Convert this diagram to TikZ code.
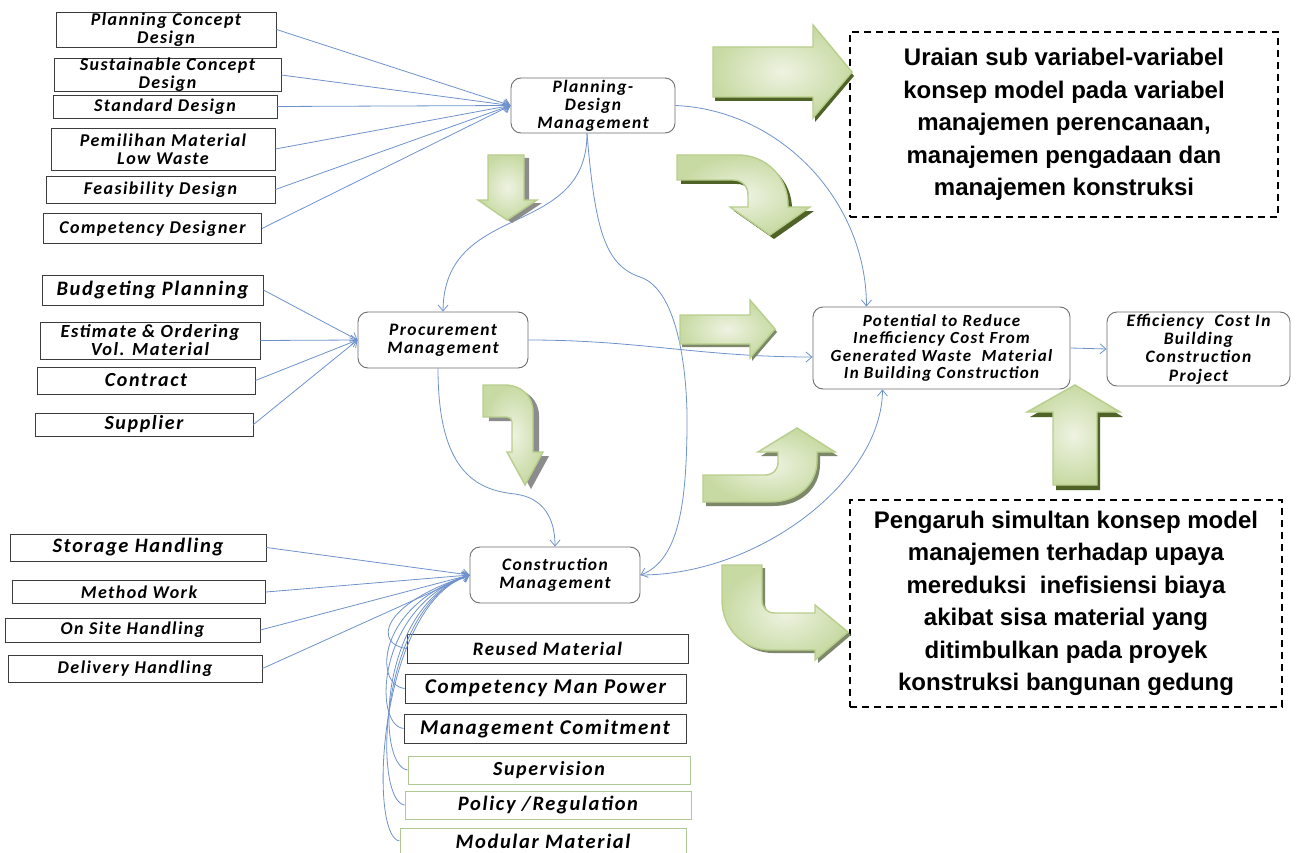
\documentclass[tikz,border=0pt]{standalone}
\usepackage{fontspec}
\newfontfamily\lblfont[LetterSpace=8]{Carlito}
\newfontfamily\txtfont{Liberation Sans}
\usetikzlibrary{calc}
\usetikzlibrary{arrows.meta}
\usetikzlibrary{shadows}
\definecolor{conn}{RGB}{112,146,204}
\definecolor{boxline}{RGB}{60,60,60}
\definecolor{rndline}{RGB}{110,110,110}
\definecolor{lgreen}{RGB}{175,200,150}
\definecolor{glight}{RGB}{238,243,226}
\definecolor{gmid}{RGB}{200,218,163}
\definecolor{gedge}{RGB}{184,206,140}
\definecolor{gshade}{RGB}{79,98,40}
\definecolor{mshade}{RGB}{125,135,105}
\definecolor{greyshade}{RGB}{140,140,140}
\newcommand{\lbl}[1]{\lblfont\bfseries\itshape\fontsize{#1}{#1}\selectfont}
\tikzset{
	sub/.style={draw=boxline, line width=0.9pt, inner sep=0pt, align=center, font=\lbl{18}},
	subg/.style={sub, draw=lgreen},
	mgmt/.style={draw=rndline, line width=0.9pt, rounded corners=10pt, fill=white, inner sep=0pt, align=center, font=\lblfont\bfseries\itshape\fontsize{17.5}{18}\selectfont},
	note/.style={draw, line width=1.3pt, dash pattern=on 7pt off 5pt, inner sep=0pt, align=center, font=\txtfont\bfseries\fontsize{24}{32.5}\selectfont},
	link/.style={draw=conn, line width=0.8pt, -{Straight Barb[length=6pt,width=10pt]}},
	bigarrow/.style={draw=gedge, line width=1.4pt, inner color=glight, outer color=gmid},
}
\begin{document}
\begin{tikzpicture}[x=1pt, y=-1pt]
	\fill[white] (0,0) rectangle (1300,853);
	\useasboundingbox (0,0) rectangle (1300,853);

	\node[sub, minimum width=220pt, minimum height=35pt] (pcd) at (166,29.5) {Planning Concept\\Design};
	\node[sub, minimum width=227pt, minimum height=30pt] (scd) at (167.5,75) {Sustainable Concept\\Design};
	\node[sub, minimum width=224pt, minimum height=23pt] (sd) at (165,106.5) {Standard Design};
	\node[sub, minimum width=224pt, minimum height=42pt] (pml) at (163,149) {Pemilihan Material\\Low Waste};
	\node[sub, minimum width=229pt, minimum height=27pt] (fd) at (160.5,189.5) {Feasibility Design};
	\node[sub, minimum width=218pt, minimum height=30pt] (cdz) at (152.5,228.5) {Competency Designer};

	\node[sub, minimum width=221pt, minimum height=30pt, font=\lbl{20.5}] (bp) at (152.5,290) {Budgeting Planning};
	\node[sub, minimum width=220pt, minimum height=37pt, font=\lblfont\bfseries\itshape\fontsize{18.5}{18}\selectfont] (eo) at (150,340.5) {Estimate \& Ordering\\Vol. Material};
	\node[sub, minimum width=218pt, minimum height=27pt, font=\lbl{20}] (ct) at (146,380.5) {Contract};
	\node[sub, minimum width=218pt, minimum height=23pt, font=\lbl{20}] (sp) at (144,424.5) {Supplier};

	\node[sub, minimum width=256pt, minimum height=27pt, font=\lbl{20.5}] (sh) at (138,547.5) {Storage Handling};
	\node[sub, minimum width=253pt, minimum height=23pt] (mw) at (139,592) {Method Work};
	\node[sub, minimum width=255pt, minimum height=24pt] (osh) at (132.5,630) {On Site Handling};
	\node[sub, minimum width=254pt, minimum height=27pt] (dh) at (135,668.5) {Delivery Handling};

	\node[sub, minimum width=281pt, minimum height=29pt, font=\lbl{19}] (rm) at (547.5,648.5) {Reused Material};
	\node[sub, minimum width=281pt, minimum height=29pt, font=\lbl{21}] (cmp) at (545.5,688.5) {Competency Man Power};
	\node[sub, minimum width=282pt, minimum height=29pt, font=\lbl{21}] (mc) at (545,728.5) {Management Comitment};
	\node[subg, minimum width=282pt, minimum height=28pt, font=\lbl{20}] (sv) at (549,770) {Supervision};
	\node[subg, minimum width=286pt, minimum height=28pt, font=\lbl{20.5}] (pr) at (548,805) {Policy /Regulation};
	\node[subg, minimum width=286pt, minimum height=26pt, font=\lbl{20.5}] (mm) at (543,841) {Modular Material};

	\node[mgmt, minimum width=164pt, minimum height=55pt] (pdm) at (593,105.5) {Planning-\\Design\\Management};
	\node[mgmt, minimum width=170pt, minimum height=56pt] (prm) at (443,340) {Procurement\\Management};
	\node[mgmt, minimum width=170pt, minimum height=56pt] (cm) at (555,575) {Construction\\Management};
	\node[mgmt, minimum width=257pt, minimum height=82pt, font=\lblfont\bfseries\itshape\fontsize{17}{17.5}\selectfont] (pot) at (941.5,348) {Potential to Reduce\\Inefficiency Cost From\\Generated Waste~ Material\\In Building Construction};
	\node[mgmt, minimum width=183pt, minimum height=74pt, font=\lblfont\bfseries\itshape\fontsize{17.5}{18.3}\selectfont] (eff) at (1198.5,349) {Efficiency~ Cost In\\Building\\Construction\\Project};

	\node[note, minimum width=428pt, minimum height=185pt] (uraian) at (1064,124.5) {Uraian sub variabel-variabel\\konsep model pada variabel\\manajemen perencanaan,\\manajemen pengadaan dan\\manajemen konstruksi};
	\node[note, minimum width=432pt, minimum height=207pt] (pengaruh) at (1066,603.5) {Pengaruh simultan konsep model\\manajemen terhadap upaya\\mereduksi~ inefisiensi biaya\\akibat sisa material yang\\ditimbulkan pada proyek\\konstruksi bangunan gedung};

	\foreach \s in {pcd,scd,sd,pml,fd,cdz}
		\draw[link] (\s.east) -- (pdm.west);
	\foreach \s in {bp,eo,ct,sp}
		\draw[link] (\s.east) -- (prm.west);
	\foreach \s in {sh,mw,osh,dh}
		\draw[link] (\s.east) -- (cm.west);
	\foreach \s in {rm,cmp,mc,sv,pr,mm}
		\draw[link] (\s.west) .. controls +(-32,-4) and (378,605) .. (cm.west);
	\draw[link] ([xshift=-6pt]pdm.south) .. controls (587,240) and (444,200) .. (prm.north);
	\draw[link] ([xshift=-6pt]pdm.south) .. controls (595,230) and (605,265) .. (640,277) .. controls (680,290) and (688,380) .. (687,430) .. controls (686,500) and (680,560) .. (cm.east);
	\draw[link] ([xshift=-5pt]prm.south) .. controls (438,470) and (475,490) .. (515,494) .. controls (545,498) and (555,520) .. (cm.north);
	\draw[link] (prm.east) .. controls (640,340) and (700,357) .. ($(pot.west)+(0,9)$);
	\draw[link] (pdm.east) .. controls (780,110) and (866,200) .. ($(pot.north)+(-75,0)$);
	\draw[link] (cm.east) .. controls (760,575) and (882,480) .. ($(pot.south)+(-59,0)$);
	\draw[link] (pot.east) -- (eff.west);

	\draw[bigarrow, drop shadow={shadow xshift=2pt, shadow yshift=-4pt, fill=gshade, opacity=1}] (713,47) -- (813,47) -- (813,25) -- (852,72) -- (813,118) -- (813,97) -- (713,97) -- cycle;
	\draw[bigarrow, drop shadow={shadow xshift=4pt, shadow yshift=-4pt, fill=gshade, opacity=1}] (677,155) -- (738,155) .. controls (766,155) and (788,177) .. (788,205) -- (788,207) -- (810,207) -- (770,235) -- (730,207) -- (748,207) -- (748,195) .. controls (748,186) and (742,180) .. (733,180) -- (677,180) -- cycle;
	\draw[bigarrow, drop shadow={shadow xshift=2pt, shadow yshift=-3pt, fill=mshade, opacity=1}] (680,315) -- (750,315) -- (750,300) -- (775,329) -- (750,358) -- (750,344) -- (680,344) -- cycle;
	\draw[bigarrow, drop shadow={shadow xshift=3pt, shadow yshift=-4pt, fill=mshade, opacity=1}] (703,475) -- (765,475) .. controls (773,475) and (778,470) .. (778,462) -- (778,452) -- (758,452) -- (797,428) -- (835,452) -- (817,452) -- (817,460) .. controls (817,485) and (797,502) .. (770,502) -- (703,502) -- cycle;
	\draw[bigarrow, drop shadow={shadow xshift=3pt, shadow yshift=-3pt, fill=mshade, opacity=1}] (722,565) -- (762,565) -- (762,600) .. controls (762,608) and (767,613) .. (775,613) -- (815,613) -- (815,605) -- (848,632) -- (815,660) -- (815,650) -- (770,650) .. controls (743,650) and (722,628) .. (722,600) -- cycle;
	\draw[bigarrow, drop shadow={shadow xshift=5pt, shadow yshift=-3pt, fill=greyshade, opacity=1}] (488,155) -- (524,155) -- (524,200) -- (537,200) -- (507,220) -- (478,200) -- (488,200) -- cycle;
	\draw[bigarrow, drop shadow={shadow xshift=6pt, shadow yshift=-4pt, fill=greyshade, opacity=1}] (483,385) -- (505,385) .. controls (521,385) and (533,396) .. (533,412) -- (533,452) -- (543,452) -- (525,485) -- (507,452) -- (512,452) -- (512,422) .. controls (512,419) and (510,417) .. (507,417) -- (483,417) -- cycle;
	\draw[bigarrow, drop shadow={shadow xshift=3pt, shadow yshift=-5pt, fill=gshade, opacity=1}] (1053,485) -- (1053,412) -- (1027,412) -- (1075,385) -- (1120,412) -- (1097,412) -- (1097,485) -- cycle;
\end{tikzpicture}
\end{document}
